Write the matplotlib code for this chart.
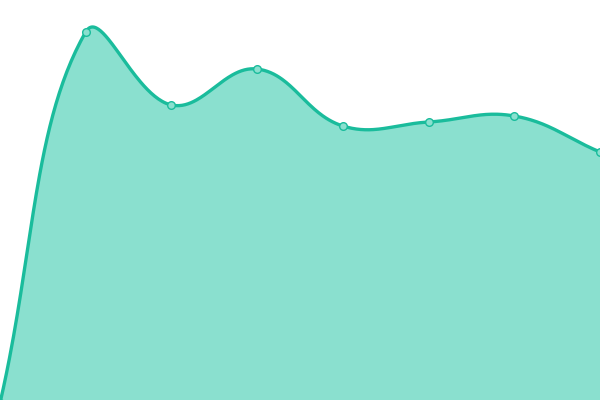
import numpy as np
import matplotlib
matplotlib.use("Agg")
import matplotlib.pyplot as plt

# data (y axis 0..400)
labels = ["A", "B", "C", "D", "E", "F", "G", "H"]
values = [-3, 368, 295, 331, 274, 278, 284, 248]

color = "#1abc9c"
fill_color = "#8ae0cf"
W, H = 600, 400
y_max = 400
tension = 0.4

fig = plt.figure(figsize=(6, 4), dpi=100)
ax = fig.add_axes([0, 0, 1, 1])
ax.set_xlim(0, len(values) - 1)
ax.set_ylim(0, y_max)
ax.axis("off")

# pixel space for the spline, like chart.js tension curves
sx = W / (len(values) - 1)
sy = H / y_max
px = np.arange(len(values)) * sx
py = np.array(values, dtype=float) * sy

n = len(px)
cp_prev = np.zeros((n, 2))
cp_next = np.zeros((n, 2))
for i in range(n):
    p0 = np.array([px[max(i - 1, 0)], py[max(i - 1, 0)]])
    p1 = np.array([px[i], py[i]])
    p2 = np.array([px[min(i + 1, n - 1)], py[min(i + 1, n - 1)]])
    d01 = np.hypot(*(p1 - p0))
    d12 = np.hypot(*(p2 - p1))
    tot = d01 + d12
    s01 = d01 / tot if tot else 0
    s12 = d12 / tot if tot else 0
    cp_prev[i] = p1 - tension * s01 * (p2 - p0)
    cp_next[i] = p1 + tension * s12 * (p2 - p0)

t = np.linspace(0, 1, 60)[:, None]
curve = []
for i in range(n - 1):
    a = np.array([px[i], py[i]])
    b = cp_next[i]
    c = cp_prev[i + 1]
    d = np.array([px[i + 1], py[i + 1]])
    seg = (1 - t) ** 3 * a + 3 * (1 - t) ** 2 * t * b + 3 * (1 - t) * t ** 2 * c + t ** 3 * d
    curve.append(seg)
curve = np.vstack(curve)
cx = curve[:, 0] / sx
cy = curve[:, 1] / sy

ax.fill_between(cx, cy, -10, color=fill_color, linewidth=0)
ax.plot(cx, cy, color=color, linewidth=2.4, solid_capstyle="round")
ax.plot(np.arange(n), values, "o", markersize=5.5, markerfacecolor=fill_color,
        markeredgecolor=color, markeredgewidth=1.0, clip_on=True)

fig.savefig("out.png", dpi=100)
